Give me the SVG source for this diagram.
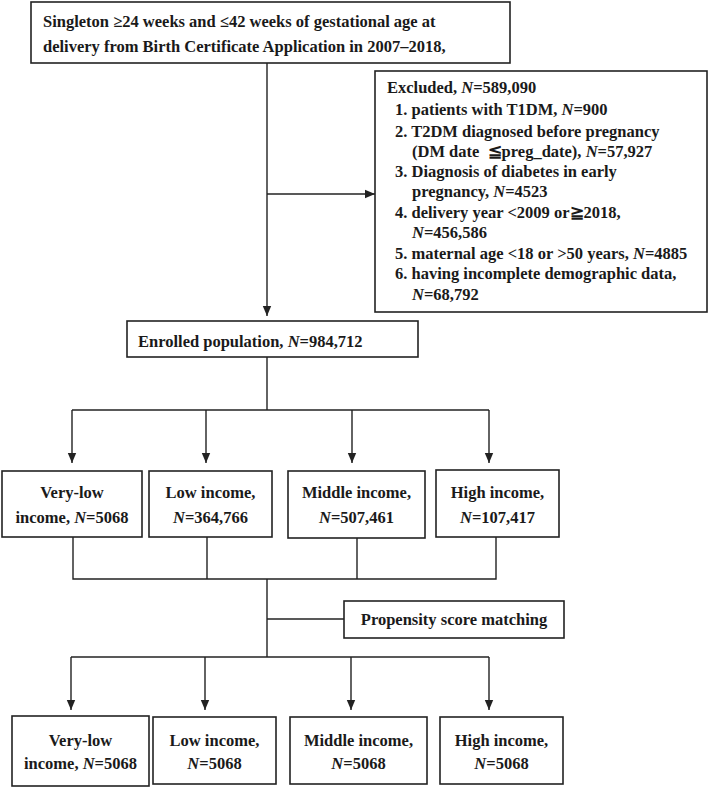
<svg xmlns="http://www.w3.org/2000/svg" width="709" height="788" viewBox="0 0 709 788">
<style>
.box{fill:#fff;stroke:#222;stroke-width:1.6}
.ln{fill:none;stroke:#222;stroke-width:1.4}
text{font-family:"Liberation Serif","Times New Roman",serif;font-weight:bold;font-size:16.5px;fill:#1a1a1a}
.c{text-anchor:middle}
.i{font-style:italic}
</style>
<defs>
<marker id="ah" markerUnits="userSpaceOnUse" markerWidth="10" markerHeight="10" viewBox="0 0 10 10" refX="10" refY="5" orient="auto">
<path d="M0,0.8 L10,5 L0,9.2 Z" fill="#222"/>
</marker>
</defs>
<rect width="709" height="788" fill="#fff"/>
<g id="connectors">
<line class="ln" x1="267" y1="63" x2="267" y2="316" marker-end="url(#ah)"/>
<line class="ln" x1="267" y1="194" x2="375" y2="194" marker-end="url(#ah)"/>
<polyline class="ln" points="267,357 267,410"/>
<polyline class="ln" points="72,410 489,410"/>
<line class="ln" x1="72" y1="410" x2="72" y2="463" marker-end="url(#ah)"/>
<line class="ln" x1="206" y1="410" x2="206" y2="463" marker-end="url(#ah)"/>
<line class="ln" x1="352" y1="410" x2="352" y2="463" marker-end="url(#ah)"/>
<line class="ln" x1="489" y1="410" x2="489" y2="463" marker-end="url(#ah)"/>
<polyline class="ln" points="73,537 73,579 496,579 496,537"/>
<line class="ln" x1="207" y1="537" x2="207" y2="579"/>
<line class="ln" x1="357" y1="538" x2="357" y2="579"/>
<line class="ln" x1="267" y1="579" x2="267" y2="657"/>
<line class="ln" x1="267" y1="619" x2="344" y2="619"/>
<polyline class="ln" points="71,657 489,657"/>
<line class="ln" x1="71" y1="657" x2="71" y2="710" marker-end="url(#ah)"/>
<line class="ln" x1="205" y1="657" x2="205" y2="710" marker-end="url(#ah)"/>
<line class="ln" x1="351" y1="657" x2="351" y2="710" marker-end="url(#ah)"/>
<line class="ln" x1="489" y1="657" x2="489" y2="710" marker-end="url(#ah)"/>
</g>
<g id="source">
<rect class="box" x="31" y="2" width="479" height="61"/>
<text x="43" y="27">Singleton ≥24 weeks and ≤42 weeks of gestational age at</text>
<text x="43" y="52">delivery from Birth Certificate Application in 2007–2018,</text>
</g>
<g id="excluded">
<rect class="box" x="375" y="71" width="332" height="241"/>
<text x="387" y="93">Excluded, <tspan class="i">N</tspan>=589,090</text>
<text x="395" y="115">1. patients with T1DM, <tspan class="i">N</tspan>=900</text>
<text x="395" y="137">2. T2DM diagnosed before pregnancy</text>
<text x="412" y="157" xml:space="preserve">(DM date  ≦preg_date), <tspan class="i">N</tspan>=57,927</text>
<text x="395" y="177">3. Diagnosis of diabetes in early</text>
<text x="412" y="197">pregnancy, <tspan class="i">N</tspan>=4523</text>
<text x="395" y="218">4. delivery year &lt;2009 or≧2018,</text>
<text x="412" y="238"><tspan class="i">N</tspan>=456,586</text>
<text x="395" y="259">5. maternal age &lt;18 or &gt;50 years, <tspan class="i">N</tspan>=4885</text>
<text x="395" y="279">6. having incomplete demographic data,</text>
<text x="412" y="300"><tspan class="i">N</tspan>=68,792</text>
</g>
<g id="enrolled">
<rect class="box" x="127" y="321" width="291" height="36"/>
<text x="138" y="347">Enrolled population, <tspan class="i">N</tspan>=984,712</text>
</g>
<g id="g1-verylow">
<rect class="box" x="2" y="471" width="140" height="66"/>
<text class="c" x="72" y="498">Very-low</text>
<text class="c" x="72" y="523">income, <tspan class="i">N</tspan>=5068</text>
</g>
<g id="g1-low">
<rect class="box" x="149" y="471" width="123" height="66"/>
<text class="c" x="210.5" y="498">Low income,</text>
<text class="c" x="210.5" y="523"><tspan class="i">N</tspan>=364,766</text>
</g>
<g id="g1-middle">
<rect class="box" x="288" y="471" width="137" height="67"/>
<text class="c" x="356.5" y="498">Middle income,</text>
<text class="c" x="356.5" y="523"><tspan class="i">N</tspan>=507,461</text>
</g>
<g id="g1-high">
<rect class="box" x="436" y="470" width="123" height="67"/>
<text class="c" x="497.5" y="498">High income,</text>
<text class="c" x="497.5" y="523"><tspan class="i">N</tspan>=107,417</text>
</g>
<g id="psm">
<rect class="box" x="344" y="601" width="220" height="37"/>
<text class="c" x="454" y="625">Propensity score matching</text>
</g>
<g id="g2-verylow">
<rect class="box" x="12" y="716" width="137" height="70"/>
<text class="c" x="80.5" y="746">Very-low</text>
<text class="c" x="80.5" y="769">income, <tspan class="i">N</tspan>=5068</text>
</g>
<g id="g2-low">
<rect class="box" x="153" y="717" width="123" height="67"/>
<text class="c" x="214.5" y="746">Low income,</text>
<text class="c" x="214.5" y="769"><tspan class="i">N</tspan>=5068</text>
</g>
<g id="g2-middle">
<rect class="box" x="290" y="717" width="137" height="67"/>
<text class="c" x="358.5" y="746">Middle income,</text>
<text class="c" x="358.5" y="769"><tspan class="i">N</tspan>=5068</text>
</g>
<g id="g2-high">
<rect class="box" x="440" y="717" width="123" height="67"/>
<text class="c" x="501.5" y="746">High income,</text>
<text class="c" x="501.5" y="769"><tspan class="i">N</tspan>=5068</text>
</g>
</svg>
